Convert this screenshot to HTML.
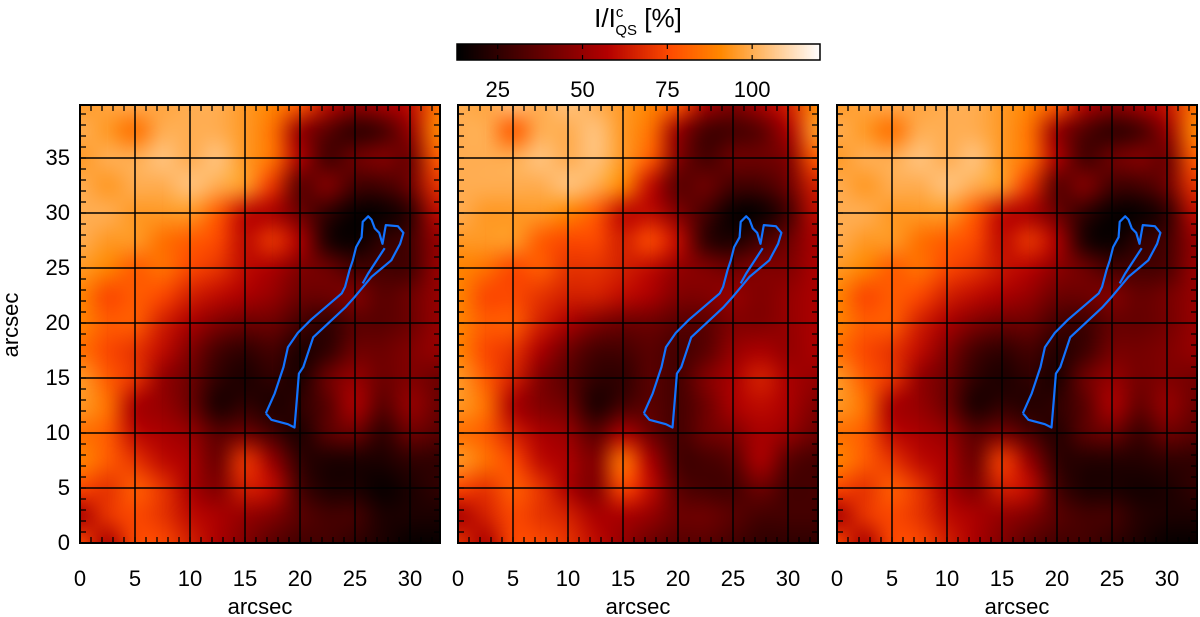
<!DOCTYPE html>
<html><head><meta charset="utf-8">
<style>
html,body{margin:0;padding:0;background:#fff;}
body{width:1200px;height:617px;position:relative;overflow:hidden;font-family:"Liberation Sans",sans-serif;}
svg text{font-family:"Liberation Sans",sans-serif;fill:#000;}
canvas{position:absolute;}
</style></head>
<body>
<div id="wrap" style="position:absolute;left:0;top:0;width:1200px;height:617px;">
<canvas id="c1" width="360" height="438" style="left:80px;top:105px"></canvas>
<canvas id="c2" width="361" height="438" style="left:458px;top:105px"></canvas>
<canvas id="c3" width="361" height="438" style="left:837px;top:105px"></canvas>
<canvas id="cb" width="363" height="16" style="left:457px;top:44px"></canvas>
<svg id="ov" width="1200" height="617" style="position:absolute;left:0;top:0"></svg>
</div>
<script>
// Chart data (percent of quiet-sun intensity), rows from y=40 down to y=0 step 2.5, cols x=0..32.5 step 2.5
const xCoords=[0,2.5,5,7.5,10,12.5,15,17.5,20,22.5,25,27.5,30,32.5];
const yCoords=[40,37.5,35,32.5,30,27.5,25,22.5,20,17.5,15,12.5,10,7.5,5,2.5,0];
const intensity1=[
[95,98,100,98,100,100,95,90,80,60,50,55,60,85],
[100,95,85,100,100,100,95,85,50,35,25,30,50,90],
[95,100,100,105,100,105,95,85,55,30,40,45,40,80],
[100,95,100,100,105,100,95,70,35,45,30,30,40,70],
[100,100,95,95,95,80,60,55,40,25,15,15,25,60],
[100,95,95,85,80,75,60,70,55,20,15,25,30,50],
[95,90,80,85,75,70,60,55,45,40,30,30,30,50],
[90,75,80,75,65,60,55,50,40,40,45,35,40,50],
[90,80,80,65,55,45,40,40,30,25,35,35,40,50],
[85,75,70,60,45,30,25,30,20,25,40,40,45,50],
[95,80,70,50,40,25,20,25,20,40,50,40,45,40],
[95,85,55,50,40,20,25,20,25,35,55,35,50,40],
[85,80,60,55,50,35,40,30,20,35,40,25,40,35],
[90,80,70,60,55,40,70,50,25,20,20,20,25,25],
[75,70,80,70,55,45,65,60,30,20,20,15,20,25],
[55,70,75,70,60,55,50,45,35,30,30,20,20,20],
[75,55,75,75,65,55,45,35,30,30,25,20,15,15]];
const intensity2=[
[100,98,105,100,105,100,95,90,80,55,45,55,65,90],
[100,100,80,100,100,105,95,85,50,30,30,35,55,95],
[100,100,100,105,100,105,95,80,45,30,40,40,45,80],
[100,100,100,100,105,100,90,60,35,40,30,30,40,65],
[100,95,95,95,90,80,60,60,45,30,15,15,30,60],
[95,95,95,80,75,75,65,75,60,25,20,30,40,55],
[90,85,75,80,70,70,65,60,50,45,40,45,45,55],
[90,75,75,70,65,65,60,55,45,45,50,45,50,55],
[90,80,80,65,55,45,40,40,35,35,45,45,50,55],
[90,75,70,55,40,30,30,35,30,35,50,55,50,55],
[95,80,65,45,35,25,25,35,30,45,55,65,55,50],
[95,85,55,45,40,20,30,35,30,40,55,60,55,45],
[85,80,65,55,50,35,55,40,30,40,45,55,50,40],
[95,85,75,60,55,45,85,55,30,30,35,55,35,30],
[75,70,80,70,55,45,75,60,35,30,30,40,30,30],
[55,65,75,70,65,55,55,50,40,40,35,30,30,30],
[70,55,75,75,70,60,50,40,35,35,30,25,25,25]];
const intensity3=[
[95,98,100,98,100,100,95,90,80,58,48,55,62,85],
[100,95,85,100,100,100,95,85,50,33,25,30,50,90],
[95,100,100,105,100,105,95,85,55,30,40,45,40,80],
[100,95,100,100,105,100,95,70,35,45,30,30,40,70],
[100,100,95,95,95,80,60,55,40,25,15,15,25,60],
[100,95,95,85,80,75,60,70,55,20,15,25,30,50],
[95,90,80,85,75,70,62,58,48,40,30,30,32,50],
[90,75,80,75,65,60,55,50,40,40,45,38,42,50],
[90,80,80,65,55,45,40,40,30,28,38,38,42,50],
[85,75,70,60,45,30,25,30,22,28,42,42,45,50],
[95,80,70,50,40,25,20,25,20,40,50,42,45,42],
[95,85,55,50,40,20,25,22,25,35,55,38,50,40],
[85,80,60,55,50,35,42,32,22,35,40,28,40,35],
[90,80,70,60,55,40,72,50,25,22,22,22,25,25],
[75,70,80,70,55,45,65,60,30,20,20,18,20,25],
[55,70,75,70,60,55,50,45,35,30,30,22,20,20],
[75,55,75,75,65,55,45,35,30,30,25,20,15,15]];
const contourX=[16.9,17.4,18.9,19.5,19.7,19.9,20.3,20.7,21.2,24.1,25.0,26.5,28.3,29.1,29.4,28.9,27.8,27.5,27.2,26.8,26.5,26.2,25.7,25.6,25.1,24.8,24.5,24.1,23.8,21.0,19.8,18.9,18.5,18.2,17.7,17.3,16.9];
const contourY=[11.8,11.2,10.8,10.5,12.9,15.4,16.0,17.2,18.7,21.4,22.4,24.2,25.7,27.2,28.2,28.8,28.9,27.2,28.2,28.6,29.4,29.7,29.2,27.8,26.9,25.7,24.8,23.3,22.7,20.3,19.1,17.8,16.0,15.1,13.6,12.7,11.8];
const innerX=[25.7,26.2,27.5,27.7];
const innerY=[23.6,24.5,26.5,26.8];
const xTicks=[0,5,10,15,20,25,30];
const yTicks=[0,5,10,15,20,25,30,35];
const cbTicks=[25,50,75,100];
const vMin=13, vMax=120;

function cmap(v){
  let t=Math.max(0,Math.min(1,(v-vMin)/(vMax-vMin)));
  let i=t*255;
  let r=Math.min(255,i*255/150);
  let g=Math.max(0,Math.min(255,(i-105)*255/150));
  let b=Math.max(0,Math.min(255,(i-185)*255/70));
  return [r|0,g|0,b|0];
}
const SC=11; // px per arcsec
const panels=[{id:'c1',left:80,data:intensity1},{id:'c2',left:458,data:intensity2},{id:'c3',left:837,data:intensity3}];
const top0=105, bottomY=543, pw=360;
const NS='http://www.w3.org/2000/svg';
const svg=document.getElementById('ov');
function el(tag,attrs,parent){const e=document.createElementNS(NS,tag);for(const k in attrs)e.setAttribute(k,attrs[k]);(parent||svg).appendChild(e);return e;}

panels.forEach((p,pi)=>{
  const off=document.createElement('canvas');off.width=xCoords.length;off.height=yCoords.length;
  const octx=off.getContext('2d');const img=octx.createImageData(off.width,off.height);
  p.data.forEach((row,r)=>row.forEach((v,c)=>{const k=(r*off.width+c)*4;const col=cmap(v);img.data[k]=col[0];img.data[k+1]=col[1];img.data[k+2]=col[2];img.data[k+3]=255;}));
  octx.putImageData(img,0,0);
  const ctx=document.getElementById(p.id).getContext('2d');
  ctx.imageSmoothingEnabled=true;ctx.imageSmoothingQuality='high';
  const step=2.5*SC;
  const dx=xCoords[0]*SC-step/2, dy=(bottomY-top0)-yCoords[0]*SC-step/2;
  ctx.drawImage(off,dx,dy,xCoords.length*step,yCoords.length*step);

  const g=el('g',{});
  
  
  const X=x=>p.left+x*SC, Y=y=>bottomY-y*SC;
  const right=p.left+pw;
  xTicks.forEach(t=>{if(t>0){const l=el('line',{x1:X(t),x2:X(t),y1:top0,y2:bottomY,stroke:'#000','stroke-width':1.5},g);}});
  yTicks.forEach(t=>{if(t>0){const l=el('line',{x1:p.left,x2:right,y1:Y(t),y2:Y(t),stroke:'#000','stroke-width':1.5},g);}});
  for(let t=1;t<=32;t++){el('line',{x1:X(t),x2:X(t),y1:bottomY,y2:bottomY-6,stroke:'#000','stroke-width':1.3},g);el('line',{x1:X(t),x2:X(t),y1:top0,y2:top0+6,stroke:'#000','stroke-width':1.3},g);}
  for(let t=1;t<=39;t++){el('line',{x1:p.left,x2:p.left+6,y1:Y(t),y2:Y(t),stroke:'#000','stroke-width':1.3},g);el('line',{x1:right,x2:right-6,y1:Y(t),y2:Y(t),stroke:'#000','stroke-width':1.3},g);}
  const pts=contourX.map((x,i)=>X(x)+','+Y(contourY[i])).join(' ');
  const pl=el('polyline',{points:pts,fill:'none',stroke:'#1273ff','stroke-width':2.2,'stroke-linejoin':'round'},g);
  
  
  const pts2=innerX.map((x,i)=>X(x)+','+Y(innerY[i])).join(' ');
  const pl2=el('polyline',{points:pts2,fill:'none',stroke:'#1273ff','stroke-width':2.2},g);
  
  
  const fr=el('rect',{x:p.left,y:top0,width:pw,height:bottomY-top0,fill:'none',stroke:'#000','stroke-width':2},g);
  
  
  xTicks.forEach(t=>{const tx=el('text',{x:X(t),y:586,'text-anchor':'middle','font-size':22},g);tx.textContent=t;});
  const xl=el('text',{x:p.left+180,y:614,'text-anchor':'middle','font-size':22},g);xl.textContent='arcsec';
  
  
  if(pi===0){
    yTicks.forEach(t=>{const tx=el('text',{x:70,y:Y(t)+7,'text-anchor':'end','font-size':22},g);tx.textContent=t;});
    const yl=el('text',{x:0,y:0,'text-anchor':'middle','font-size':22,transform:'translate(18,325) rotate(-90)'},g);yl.textContent='arcsec';
    
    
  }
});

(function(){
  const c=document.getElementById('cb').getContext('2d');
  for(let x=0;x<363;x++){const v=vMin+(vMax-vMin)*x/362;const col=cmap(v);c.fillStyle='rgb('+col+')';c.fillRect(x,0,1,16);}
  const CX=v=>457+(v-vMin)/(vMax-vMin)*363;
  const fr=el('rect',{x:457,y:44,width:363,height:16,fill:'none',stroke:'#000','stroke-width':1.5});
  
  
  cbTicks.forEach(t=>{
    el('line',{x1:CX(t),x2:CX(t),y1:44,y2:49,stroke:'#000','stroke-width':1.2});
    el('line',{x1:CX(t),x2:CX(t),y1:60,y2:55,stroke:'#000','stroke-width':1.2});
    const tx=el('text',{x:CX(t),y:97,'text-anchor':'middle','font-size':22});tx.textContent=t;
    
    
  });
  const ti=el('text',{x:638,y:27,'text-anchor':'middle','font-size':26});
  
  
  ti.innerHTML='I/I<tspan font-size="15" dy="-10">c</tspan><tspan font-size="15" dx="-8" dy="18">QS</tspan><tspan dy="-8"> [%]</tspan>';
})();
</script>
</body></html>
